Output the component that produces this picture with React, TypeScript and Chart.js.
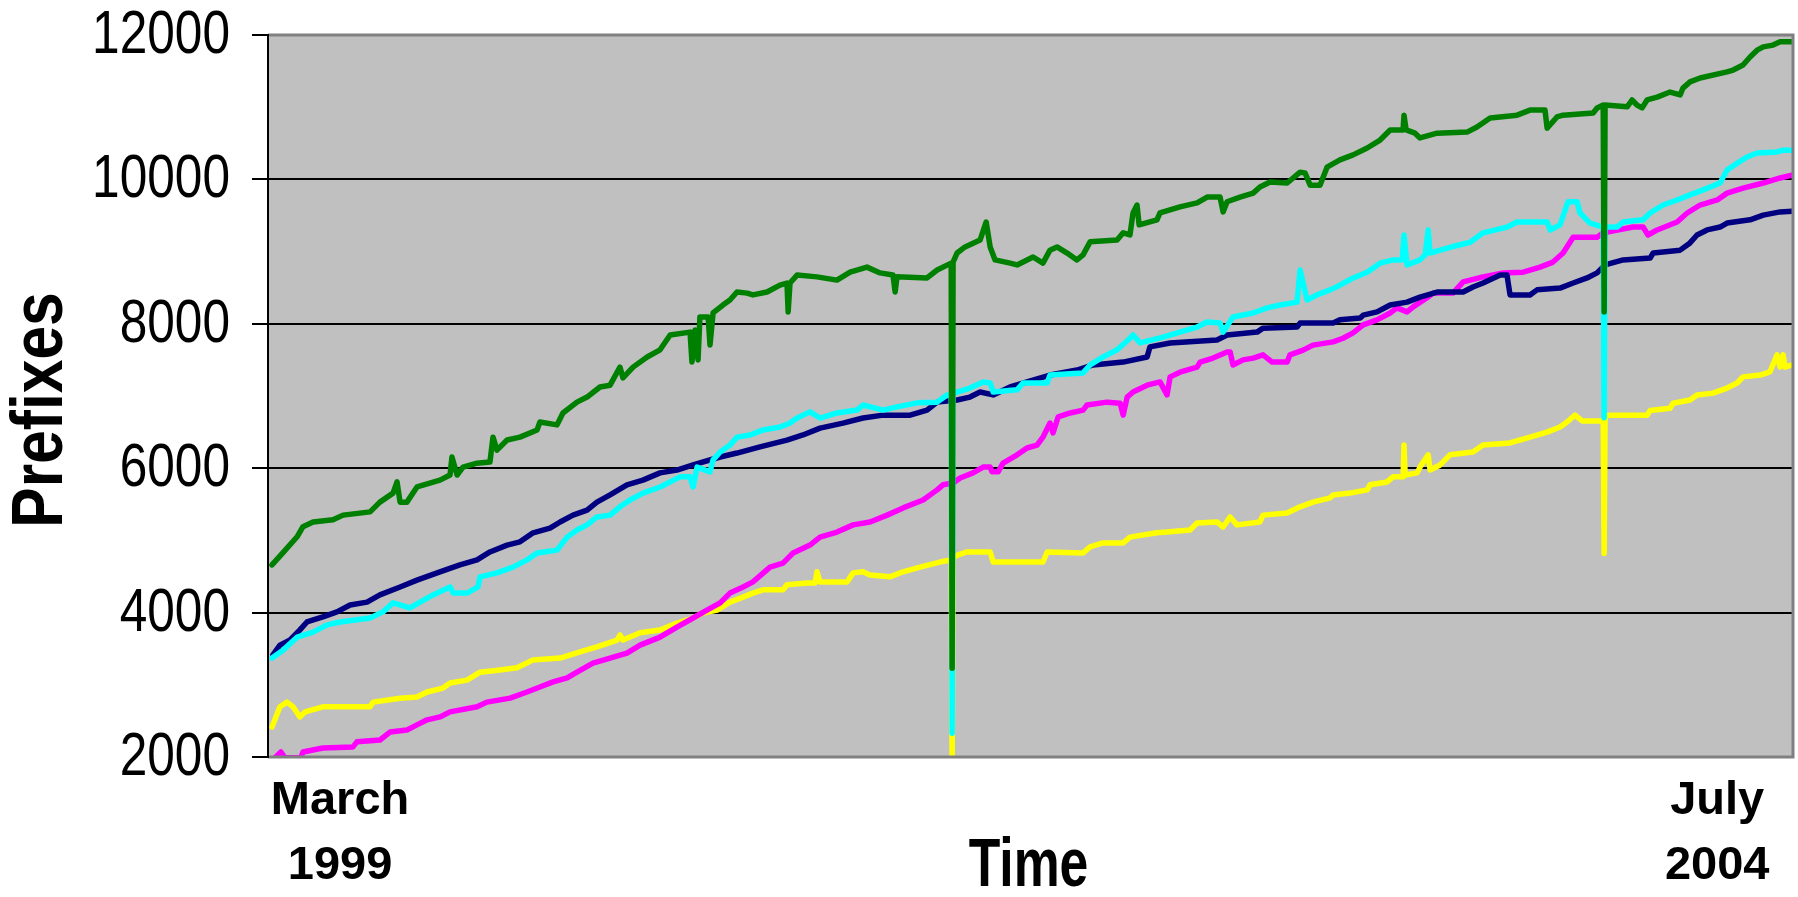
import React, { useEffect, useRef } from "react";
import { Chart, registerables } from "chart.js";

Chart.register(...registerables);

// x = months since March 1999, y = number of prefixes
const greenData: [number, number][] = [
  [0.17, 4660], [0.64, 4830], [1.24, 5050], [1.49, 5190], [1.92, 5255], [2.77, 5285], [3.2, 5350], [4.35, 5395],
  [4.77, 5530], [5.33, 5655], [5.5, 5810], [5.63, 5530], [5.92, 5530], [6.35, 5740], [7.33, 5835], [7.76, 5905],
  [7.84, 6155], [8.06, 5905], [8.31, 6015], [8.91, 6070], [9.46, 6085], [9.59, 6430], [9.76, 6250], [10.19, 6390],
  [10.74, 6430], [11.47, 6530], [11.59, 6640], [12.32, 6600], [12.57, 6765], [13.17, 6915], [13.6, 6985], [14.15, 7125],
  [14.58, 7150], [15.0, 7400], [15.13, 7250], [15.56, 7400], [16.16, 7540], [16.71, 7640], [17.14, 7845], [17.99, 7885],
  [18.07, 7470], [18.2, 7915], [18.33, 7500], [18.41, 8095], [18.76, 8095], [18.84, 7705], [18.97, 8150], [19.39, 8260],
  [19.69, 8330], [19.99, 8440], [20.42, 8425], [20.67, 8400], [21.27, 8440], [21.82, 8535], [22.12, 8565], [22.17, 8165],
  [22.25, 8565], [22.55, 8675], [23.4, 8650], [24.25, 8605], [24.81, 8715], [25.53, 8785], [26.09, 8705], [26.64, 8675],
  [26.73, 8440], [26.81, 8650], [28.09, 8635], [28.52, 8745], [29.12, 8840], [29.16, 3230], [29.2, 8855], [29.37, 8980],
  [29.71, 9065], [30.35, 9160], [30.61, 9410], [30.78, 9065], [30.99, 8885], [31.63, 8840], [31.93, 8815], [32.61, 8925],
  [33.03, 8840], [33.33, 9020], [33.63, 9065], [34.06, 8980], [34.48, 8885], [34.74, 8955], [35.04, 9135], [36.19, 9160],
  [36.45, 9260], [36.74, 9230], [36.87, 9535], [37.04, 9645], [37.13, 9370], [37.89, 9440], [38.02, 9535], [38.87, 9620],
  [39.6, 9675], [40.03, 9755], [40.58, 9755], [40.71, 9550], [40.88, 9690], [41.43, 9755], [41.99, 9810], [42.28, 9895],
  [42.71, 9965], [43.44, 9950], [43.99, 10100], [44.2, 10090], [44.42, 9920], [44.84, 9920], [45.14, 10170], [45.69, 10270],
  [46.25, 10340], [46.85, 10435], [47.4, 10545], [47.83, 10685], [48.38, 10685], [48.42, 10890], [48.51, 10685], [48.89, 10640],
  [49.1, 10575], [49.83, 10640], [51.11, 10655], [51.53, 10725], [52.09, 10850], [53.24, 10890], [53.79, 10960], [54.43, 10960],
  [54.52, 10710], [54.94, 10865], [55.2, 10890], [56.48, 10920], [56.65, 10990], [56.91, 11030], [56.95, 8165], [56.99, 11030],
  [57.93, 11005], [58.14, 11100], [58.35, 11030], [58.57, 10990], [58.78, 11100], [59.21, 11140], [59.76, 11210], [60.19, 11170],
  [60.31, 11265], [60.61, 11350], [61.04, 11405], [62.19, 11490], [62.45, 11515], [62.87, 11585], [63.17, 11695], [63.47, 11790],
  [63.73, 11835], [64.15, 11860], [64.45, 11905], [64.96, 11905],
];

const cyanData: [number, number][] = [
  [0.17, 3370], [0.64, 3480], [1.24, 3660], [1.92, 3730], [2.52, 3830], [3.07, 3870], [4.35, 3925], [4.9, 4010],
  [5.33, 4135], [6.05, 4065], [6.48, 4145], [7.03, 4245], [7.76, 4355], [7.89, 4270], [8.48, 4270], [8.95, 4355],
  [9.04, 4495], [9.76, 4550], [10.44, 4630], [11.04, 4730], [11.47, 4825], [12.32, 4865], [12.75, 5045], [13.17, 5145],
  [13.6, 5215], [14.02, 5325], [14.58, 5350], [15.0, 5465], [15.43, 5560], [15.98, 5655], [16.71, 5740], [17.56, 5880],
  [17.99, 5880], [18.12, 5740], [18.29, 6015], [18.84, 5950], [18.97, 6115], [19.27, 6225], [19.69, 6320], [19.99, 6430],
  [20.55, 6460], [21.1, 6530], [21.82, 6570], [22.25, 6625], [22.55, 6695], [23.1, 6780], [23.53, 6695], [24.25, 6765],
  [25.11, 6805], [25.36, 6875], [26.22, 6805], [26.81, 6850], [27.67, 6905], [28.52, 6915], [28.94, 7015], [29.12, 7015],
  [29.16, 2330], [29.2, 7030], [29.37, 7055], [29.92, 7110], [30.48, 7195], [30.78, 7180], [30.91, 7055], [31.93, 7085],
  [32.18, 7180], [33.21, 7180], [33.33, 7290], [34.74, 7320], [35.04, 7430], [35.59, 7540], [36.19, 7640], [36.74, 7800],
  [36.87, 7845], [37.17, 7735], [38.15, 7815], [38.87, 7885], [39.6, 7955], [40.03, 8025], [40.58, 8010], [40.71, 7885],
  [41.13, 8095], [41.99, 8150], [42.58, 8220], [43.14, 8260], [43.86, 8300], [43.99, 8745], [44.29, 8330], [44.71, 8400],
  [45.27, 8470], [45.69, 8535], [46.25, 8635], [46.85, 8715], [47.4, 8840], [47.95, 8885], [48.34, 8885], [48.42, 9230],
  [48.55, 8815], [49.1, 8885], [49.32, 8955], [49.45, 9300], [49.53, 8980], [49.96, 9020], [50.38, 9060], [51.24, 9130],
  [51.79, 9260], [52.81, 9340], [53.24, 9410], [54.52, 9410], [54.65, 9300], [55.07, 9370], [55.41, 9690], [55.8, 9690],
  [55.92, 9535], [56.35, 9395], [56.91, 9340], [56.95, 6700], [56.99, 9340], [57.5, 9340], [57.76, 9410], [58.61, 9440],
  [58.91, 9535], [59.46, 9645], [60.06, 9715], [60.61, 9785], [61.17, 9855], [61.89, 9950], [62.19, 10130], [62.62, 10225],
  [63.04, 10310], [63.47, 10365], [64.32, 10380], [64.58, 10405], [64.96, 10405],
];

const navyData: [number, number][] = [
  [0.21, 3415], [0.51, 3550], [0.94, 3620], [1.36, 3760], [1.66, 3870], [2.34, 3940], [2.94, 4010], [3.5, 4105],
  [4.22, 4145], [4.77, 4245], [5.63, 4355], [6.35, 4450], [7.33, 4565], [8.18, 4660], [8.91, 4730], [9.46, 4840],
  [10.19, 4935], [10.74, 4980], [11.3, 5105], [12.02, 5170], [12.45, 5255], [13.0, 5350], [13.6, 5420], [14.02, 5530],
  [14.58, 5630], [15.3, 5770], [15.98, 5835], [16.71, 5935], [17.43, 5975], [18.12, 6045], [19.27, 6155], [19.99, 6210],
  [20.97, 6295], [22.12, 6390], [22.8, 6460], [23.53, 6555], [24.51, 6625], [25.36, 6695], [26.22, 6735], [27.37, 6735],
  [28.09, 6805], [28.52, 6915], [29.37, 6945], [29.92, 6985], [30.35, 7055], [30.91, 7015], [31.63, 7125], [32.35, 7195],
  [33.33, 7290], [34.48, 7360], [35.17, 7430], [36.45, 7470], [37.47, 7540], [37.59, 7680], [38.45, 7735], [40.45, 7775],
  [40.88, 7845], [42.16, 7885], [42.41, 7940], [43.86, 7955], [43.99, 8010], [45.4, 8010], [45.69, 8055], [46.55, 8080],
  [46.68, 8120], [47.27, 8165], [47.83, 8260], [48.55, 8300], [49.1, 8370], [49.83, 8440], [50.94, 8440], [51.36, 8510],
  [51.79, 8565], [52.52, 8675], [52.81, 8675], [52.94, 8400], [53.79, 8400], [54.09, 8470], [55.07, 8495], [55.63, 8565],
  [56.22, 8635], [56.65, 8705], [56.99, 8815], [57.76, 8885], [58.91, 8910], [59.04, 8980], [60.19, 9020], [60.61, 9120],
  [60.91, 9230], [61.34, 9300], [61.89, 9340], [62.19, 9395], [63.17, 9440], [63.73, 9505], [64.45, 9550], [64.96, 9560],
];

const magentaData: [number, number][] = [
  [0.3, 1990], [0.55, 2070], [0.72, 1990], [1.4, 1990], [1.49, 2070], [2.34, 2125], [3.62, 2140], [3.79, 2210],
  [4.77, 2235], [5.2, 2345], [5.92, 2375], [6.35, 2445], [6.78, 2515], [7.33, 2555], [7.76, 2625], [8.91, 2695],
  [9.33, 2760], [10.32, 2815], [11.04, 2900], [11.59, 2970], [12.15, 3040], [12.75, 3095], [13.17, 3175], [13.85, 3300],
  [14.58, 3370], [15.3, 3440], [15.86, 3550], [16.71, 3660], [17.43, 3800], [18.12, 3925], [18.71, 4035], [19.27, 4135],
  [19.69, 4270], [20.25, 4355], [20.67, 4425], [21.4, 4630], [21.95, 4685], [22.38, 4825], [23.1, 4935], [23.53, 5045],
  [24.25, 5115], [24.94, 5215], [25.66, 5255], [26.39, 5350], [27.07, 5450], [27.92, 5560], [28.52, 5700], [28.77, 5770],
  [29.2, 5795], [29.5, 5865], [30.05, 5935], [30.48, 6015], [30.78, 6015], [30.86, 5950], [31.12, 5950], [31.33, 6070],
  [31.93, 6185], [32.35, 6280], [32.78, 6320], [33.03, 6430], [33.33, 6625], [33.46, 6490], [33.68, 6710], [34.19, 6765],
  [34.74, 6805], [34.91, 6875], [35.76, 6915], [36.32, 6900], [36.45, 6735], [36.62, 6985], [36.87, 7055], [37.47, 7150],
  [38.02, 7195], [38.32, 7015], [38.45, 7265], [38.87, 7330], [39.6, 7400], [39.73, 7470], [40.28, 7525], [40.88, 7610],
  [41.01, 7610], [41.13, 7430], [41.56, 7500], [41.99, 7525], [42.41, 7570], [42.8, 7470], [43.44, 7470], [43.56, 7570],
  [44.12, 7635], [44.54, 7705], [45.4, 7750], [45.82, 7800], [46.25, 7875], [46.68, 7985], [47.27, 8055], [47.83, 8150],
  [48.12, 8220], [48.55, 8165], [48.81, 8235], [49.4, 8360], [49.66, 8425], [50.51, 8425], [50.94, 8580], [51.79, 8650],
  [52.64, 8705], [53.5, 8715], [54.22, 8785], [54.77, 8855], [55.2, 8980], [55.63, 9200], [56.65, 9200], [56.91, 9260],
  [58.18, 9340], [58.61, 9340], [58.82, 9230], [59.21, 9300], [60.06, 9410], [60.49, 9535], [61.04, 9645], [61.77, 9715],
  [62.19, 9810], [62.87, 9880], [63.73, 9950], [64.45, 10020], [64.96, 10060],
];

const yellowData: [number, number][] = [
  [0.17, 2415], [0.51, 2695], [0.81, 2760], [1.07, 2695], [1.36, 2555], [1.58, 2625], [2.34, 2695], [4.35, 2695],
  [4.48, 2760], [5.63, 2815], [6.35, 2830], [6.78, 2900], [7.46, 2955], [7.76, 3025], [8.48, 3065], [9.04, 3175],
  [9.89, 3205], [10.61, 3235], [11.3, 3345], [12.45, 3370], [13.3, 3455], [14.02, 3525], [14.88, 3620], [15.0, 3690],
  [15.13, 3620], [15.86, 3720], [16.71, 3760], [17.43, 3855], [18.12, 3925], [18.54, 3995], [19.14, 4035], [19.69, 4145],
  [20.25, 4215], [20.67, 4270], [21.1, 4315], [21.95, 4315], [22.12, 4385], [22.98, 4410], [23.32, 4410], [23.4, 4565],
  [23.53, 4425], [24.68, 4425], [24.94, 4550], [25.36, 4565], [25.66, 4520], [26.51, 4495], [27.07, 4565], [27.79, 4630],
  [28.64, 4700], [29.12, 4730], [29.16, 1900], [29.2, 4760], [29.41, 4800], [29.8, 4840], [30.78, 4840], [30.91, 4700],
  [31.76, 4700], [33.03, 4700], [33.21, 4840], [34.74, 4825], [35.04, 4910], [35.59, 4965], [36.45, 4965], [36.74, 5045],
  [37.89, 5105], [38.32, 5115], [39.3, 5145], [39.6, 5240], [40.45, 5255], [40.71, 5185], [41.01, 5325], [41.3, 5215],
  [42.28, 5255], [42.41, 5350], [43.44, 5380], [43.99, 5465], [44.54, 5530], [45.27, 5590], [45.4, 5630], [46.12, 5655],
  [46.85, 5700], [46.97, 5770], [47.7, 5810], [47.95, 5880], [48.38, 5880], [48.42, 6320], [48.47, 5905], [48.98, 5935],
  [49.1, 6015], [49.45, 6185], [49.53, 5975], [49.96, 6045], [50.38, 6185], [51.36, 6225], [51.79, 6320], [52.94, 6350],
  [53.79, 6430], [54.52, 6500], [55.07, 6570], [55.37, 6640], [55.71, 6735], [56.01, 6655], [56.91, 6655], [56.95, 4820],
  [56.99, 6700], [57.12, 6735], [58.78, 6735], [58.91, 6800], [59.76, 6830], [59.89, 6900], [60.61, 6945], [60.91, 7015],
  [61.59, 7040], [62.19, 7110], [62.62, 7180], [62.87, 7265], [63.6, 7290], [64.02, 7335], [64.32, 7570], [64.45, 7400],
  [64.58, 7570], [64.66, 7400], [64.96, 7430],
];

const seriesNames = ["Series A", "Series B", "Series C", "Series D", "Series E"];
const seriesColors = ["#008000", "#00FFFF", "#000080", "#FF00FF", "#FFFF00"];
const seriesData = [greenData, cyanData, navyData, magentaData, yellowData];

const yTicks = [2000, 4000, 6000, 8000, 10000, 12000];
const xTickPositions = [3.07, 61.77];
const xTickLabels = [["March", "1999"], ["July", "2004"]];
const yTitle = "Prefixes";
const xTitle = "Time";

const SANS = "'Liberation Sans', Arial, sans-serif";

const framePlugin = {
  id: "frame",
  beforeDraw(chart: any) {
    const { ctx, chartArea } = chart;
    const { left, top, right, bottom } = chartArea;
    ctx.save();
    ctx.fillStyle = "#C0C0C0";
    ctx.fillRect(left, top, right - left, bottom - top);
    ctx.restore();
  },
  afterDraw(chart: any) {
    const { ctx, chartArea } = chart;
    const { left, top, right, bottom } = chartArea;
    ctx.save();
    ctx.strokeStyle = "#808080";
    ctx.lineWidth = 3;
    ctx.beginPath();
    ctx.moveTo(left, top);
    ctx.lineTo(right, top);
    ctx.lineTo(right, bottom);
    ctx.lineTo(left, bottom);
    ctx.stroke();
    ctx.strokeStyle = "#000000";
    ctx.lineWidth = 2;
    ctx.beginPath();
    ctx.moveTo(left, top - 1);
    ctx.lineTo(left, bottom + 1);
    ctx.stroke();

    // y tick labels (narrow, like Arial Narrow)
    const yScale = chart.scales.y;
    ctx.fillStyle = "#000000";
    ctx.font = `62px ${SANS}`;
    ctx.textAlign = "right";
    ctx.textBaseline = "middle";
    yTicks.forEach((v) => {
      const py = yScale.getPixelForValue(v);
      ctx.save();
      ctx.translate(left - 38, py + 1);
      ctx.scale(0.8, 1);
      ctx.fillText(String(v), 0, 0);
      ctx.restore();
    });

    // y axis title
    ctx.font = `bold 72px ${SANS}`;
    ctx.textAlign = "center";
    ctx.textBaseline = "middle";
    ctx.save();
    ctx.translate(42, (top + bottom) / 2 + 14);
    ctx.rotate(-Math.PI / 2);
    ctx.scale(0.84, 1);
    ctx.fillText(yTitle, 0, 0);
    ctx.restore();

    // x axis title
    ctx.font = `bold 68px ${SANS}`;
    ctx.save();
    ctx.translate((left + right) / 2 - 2, bottom + 110);
    ctx.scale(0.76, 1);
    ctx.fillText(xTitle, 0, 0);
    ctx.restore();
    ctx.restore();
  },
};

export default function App() {
  const canvasRef = useRef<HTMLCanvasElement | null>(null);

  useEffect(() => {
    document.body.style.margin = "0";
    const canvas = canvasRef.current;
    if (!canvas) return;
    const chart = new Chart(canvas, {
      type: "line",
      data: {
        datasets: seriesData.map((d, i) => ({
          label: seriesNames[i],
          data: d.map(([x, y]) => ({ x, y })),
          borderColor: seriesColors[i],
          backgroundColor: seriesColors[i],
          borderWidth: 5.5,
          pointRadius: 0,
          tension: 0,
          fill: false,
          borderJoinStyle: "round" as const,
          borderCapStyle: "round" as const,
        })),
      },
      options: {
        animation: false,
        responsive: false,
        devicePixelRatio: 1,
        layout: { padding: { top: 35, right: 5, left: 0, bottom: 0 } },
        plugins: {
          legend: { display: false },
          tooltip: { enabled: false },
          title: { display: false },
        },
        scales: {
          x: {
            type: "linear",
            min: 0,
            max: 65,
            grid: { display: false, drawTicks: false },
            border: { display: false },
            afterBuildTicks: (scale: any) => {
              scale.ticks = xTickPositions.map((v) => ({ value: v }));
            },
            afterFit: (scale: any) => {
              scale.height = 140;
            },
            ticks: {
              autoSkip: false,
              maxRotation: 0,
              minRotation: 0,
              padding: 12,
              color: "#000000",
              font: { family: SANS, size: 47, weight: "bold", lineHeight: 1.38 },
              callback: (_v: any, index: number) => xTickLabels[index],
            },
          },
          y: {
            type: "linear",
            min: 2000,
            max: 12000,
            afterBuildTicks: (scale: any) => {
              scale.ticks = yTicks.map((v) => ({ value: v }));
            },
            afterFit: (scale: any) => {
              scale.width = 268;
            },
            grid: { color: "#000000", lineWidth: 2, drawTicks: true, tickLength: 16 },
            border: { display: false },
            ticks: { display: false },
          },
        },
      },
      plugins: [framePlugin],
    });
    return () => chart.destroy();
  }, []);

  return (
    <div style={{ width: 1798, height: 897 }}>
      <canvas ref={canvasRef} width={1798} height={897} />
    </div>
  );
}
